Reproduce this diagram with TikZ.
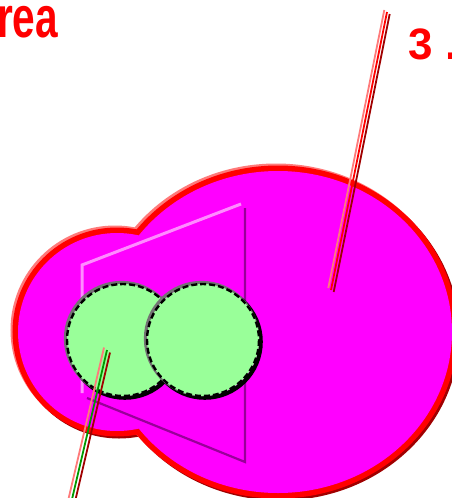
\documentclass[tikz,border=0pt]{standalone}
\usepackage{fontspec}
\newfontfamily\labelfont{Liberation Sans}

\definecolor{rimred}{HTML}{FF0000}
\definecolor{rimdark}{HTML}{A00000}
\definecolor{rimlight}{HTML}{FF7A7A}
\definecolor{bodyfill}{HTML}{FF00FF}
\definecolor{planelight}{HTML}{FF8CFF}
\definecolor{planedark}{HTML}{990099}
\definecolor{ballgreen}{HTML}{99FF99}
\definecolor{stickgreen}{HTML}{009900}

\tikzset{
  planeedge/.style={line width=3pt},
  stickline/.style={line width=1.8pt},
  balledge/.style={black, line width=2.4pt, dash pattern=on 6pt off 3pt},
  bigtext/.style={text=rimred, inner sep=0pt, anchor=base west},
}

\begin{document}
\begin{tikzpicture}[x=1pt,y=-1pt]
\useasboundingbox (0,0) rectangle (452,498);
\clip (0,0) rectangle (452,498);

% -----------------------------
% Body: two lobes with a shaded rim
% -----------------------------
\coordinate (lobeS) at (117,332);   % small lobe
\coordinate (lobeB) at (278,332);   % big lobe

\foreach \d/\col in {2/rimdark, -2/rimlight, 0/rimred} {
    \draw[\col, line width=11pt] ([shift={(\d,\d)}]lobeS) circle (99);
    \draw[\col, line width=11pt] ([shift={(\d,\d)}]lobeB) ellipse (174 and 161);
}
\fill[bodyfill] (lobeS) circle (99);
\fill[bodyfill] (lobeB) ellipse (174 and 161);

% -----------------------------
% Cutting plane
% -----------------------------
\coordinate (pLB) at (82,393);
\coordinate (pTL) at (82,265);
\coordinate (pTR) at (241,204);
\coordinate (pRT) at (245,208);
\coordinate (pBR) at (245,462);
\coordinate (pBL) at (87,398);
\draw[planeedge, planelight] (pLB) -- (pTL) -- (pTR);
\draw[planeedge, planedark, line width=2.2pt] (pRT) -- (pBR) -- (pBL);

% -----------------------------
% Two green balls (left first)
% -----------------------------
\foreach \cx in {123,203} {
    \draw[black, line width=4pt] (\cx+1.8,341.8) circle (56);
    \draw[black!55, line width=3.5pt] (\cx-1.4,338.6) circle (56);
    \fill[ballgreen] (\cx,340) circle (56);
    \draw[balledge] (\cx,340) circle (56);
}

% -----------------------------
% Pointer sticks
% -----------------------------
\coordinate (stickTa) at (387,12);
\coordinate (stickTb) at (331,290);
\coordinate (stickBa) at (107,350);
\coordinate (stickBb) at (69,512);

\foreach \s/\col in {-1/rimlight, 0/rimred, 1/rimdark}
    \draw[stickline, \col] ([shift={(2.7*\s,2*\s)}]stickTa) -- ([shift={(2.7*\s,2*\s)}]stickTb);
\foreach \s/\col in {-1/rimlight, 0/stickgreen, 1/rimdark}
    \draw[stickline, \col] ([shift={(3*\s,2.5*\s)}]stickBa) -- ([shift={(3*\s,2.5*\s)}]stickBb);

% labels, cut by the frame
\node[bigtext, xscale=0.7, font=\labelfont\bfseries\fontsize{58}{60}\selectfont] (lblarea) at (-3,37) {rea};
\node[bigtext, font=\labelfont\bfseries\fontsize{44}{46}\selectfont] (lblthree) at (408,59) {3\hspace{1pt} ...};

\end{tikzpicture}
\end{document}
